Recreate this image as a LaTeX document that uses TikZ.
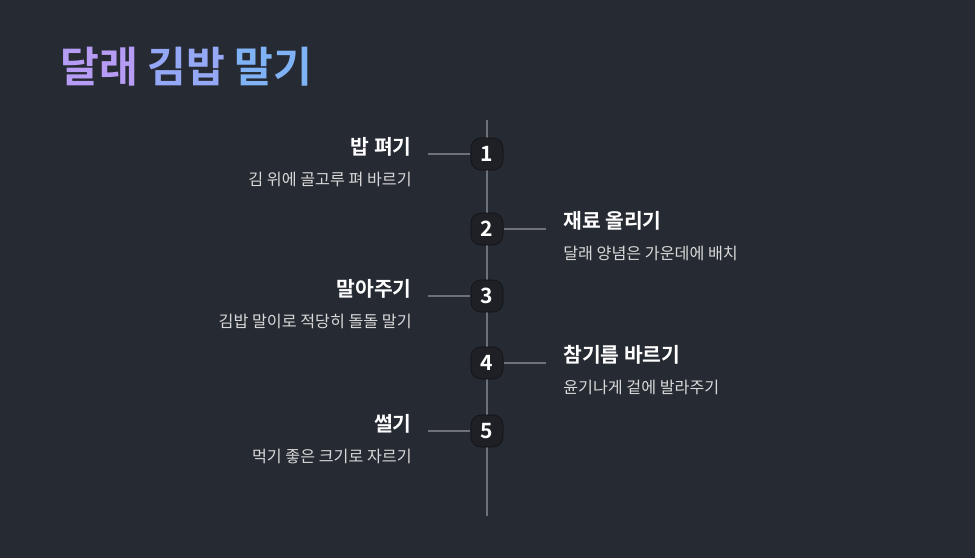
\documentclass[tikz,border=0pt]{standalone}
\usepackage{fontspec}
\setmainfont{Noto Sans CJK KR}
\newfontfamily\krbold[FakeBold=0]{Noto Sans CJK KR Bold}
\usetikzlibrary{positioning}
\definecolor{bgdark}{HTML}{262A32}
\definecolor{spinegray}{HTML}{6E7178}
\definecolor{boxfill}{HTML}{1E2025}
\definecolor{titlea}{HTML}{B79CF5}
\definecolor{titleb}{HTML}{95A8F6}
\definecolor{titlec}{HTML}{80B2F6}
\tikzset{
  stepnum/.style={draw=black!60!bgdark, fill=boxfill, rounded corners=7pt, minimum size=32*0.025cm,
    inner sep=0pt, text=white, font=\krbold\fontsize{15}{15}\selectfont},
  steptitle/.style={inner sep=0pt, text=white, font=\krbold\fontsize{14.5}{16}\selectfont},
  stepsub/.style={inner sep=0pt, text=white!85!black, font=\fontsize{11.5}{13}\selectfont},
  link/.style={spinegray, line width=1.2pt}
}
\begin{document}
\begin{tikzpicture}[x=0.025cm, y=-0.025cm]
  \fill[bgdark] (0,0) rectangle (975,558);
  \node[anchor=west, inner sep=0pt, font=\krbold\fontsize{30}{32}\selectfont] (title) at (60,67)
    {\textcolor{titlea}{달래} \textcolor{titleb}{김밥} \textcolor{titlec}{말기}};
  % spine
  \coordinate (top) at (487,120);
  \coordinate (bot) at (487,516);
  \draw[link] (top) -- (bot);
  % left steps
  \foreach \n/\y/\t/\s in {1/154/밥 펴기/김 위에 골고루 펴 바르기,
                           3/296/말아주기/김밥 말이로 적당히 돌돌 말기,
                           5/431/썰기/먹기 좋은 크기로 자르기} {
    \coordinate (l\n) at (428,\y);
    \draw[link] (l\n) -- (470,\y);
    \node[stepnum] (n\n) at (487,\y) {\n};
    \node[steptitle, anchor=east] (t\n) at (412,\y-7) {\t};
    \node[stepsub, anchor=east] (s\n) at (412,\y+25) {\s};
  }
  % right steps
  \foreach \n/\y/\t/\s in {2/229/재료 올리기/달래 양념은 가운데에 배치,
                           4/363/참기름 바르기/윤기나게 겉에 발라주기} {
    \coordinate (r\n) at (546,\y);
    \draw[link] (504,\y) -- (r\n);
    \node[stepnum] (n\n) at (487,\y) {\n};
    \node[steptitle, anchor=west] (t\n) at (563,\y-8) {\t};
    \node[stepsub, anchor=west] (s\n) at (563,\y+24) {\s};
  }
\end{tikzpicture}
\end{document}
